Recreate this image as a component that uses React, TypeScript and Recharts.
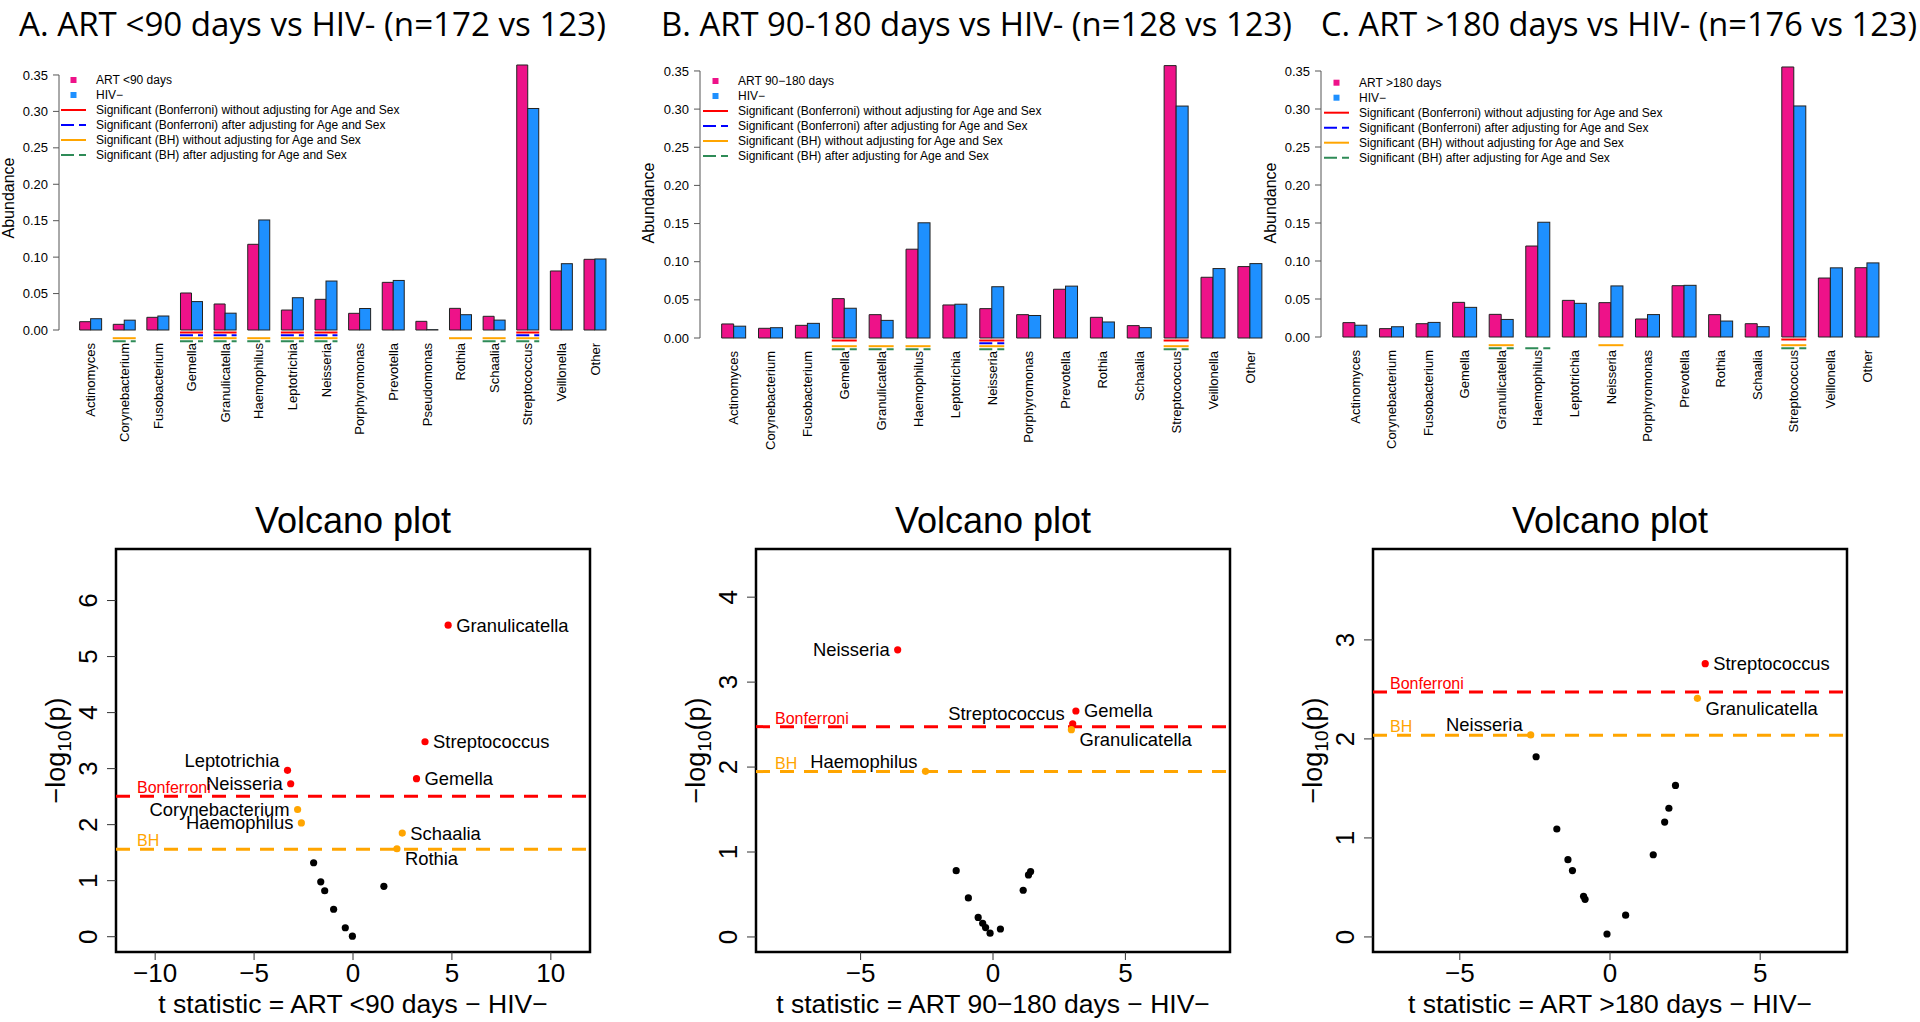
import React from 'react';
import { BarChart, Bar, XAxis, YAxis, ScatterChart, Scatter, ReferenceLine, ReferenceArea } from 'recharts';

const FONT = '"Liberation Sans", Arial, Helvetica, sans-serif';
const TITLE_FONT = '"Open Sans", "Noto Sans", sans-serif';
const PINK = '#EE1289';
const BLUE = '#1E90FF';
const SIG_RED = '#FF0000';
const SIG_BLUE = '#0000FF';
const SIG_ORANGE = '#FFA500';
const SIG_GREEN = '#2E8B57';

// genera on the bar charts (panel A also has Pseudomonas)
const GENERA_A = ['Actinomyces', 'Corynebacterium', 'Fusobacterium', 'Gemella', 'Granulicatella', 'Haemophilus', 'Leptotrichia', 'Neisseria', 'Porphyromonas', 'Prevotella', 'Pseudomonas', 'Rothia', 'Schaalia', 'Streptococcus', 'Veillonella', 'Other'];
const GENERA_BC = ['Actinomyces', 'Corynebacterium', 'Fusobacterium', 'Gemella', 'Granulicatella', 'Haemophilus', 'Leptotrichia', 'Neisseria', 'Porphyromonas', 'Prevotella', 'Rothia', 'Schaalia', 'Streptococcus', 'Veillonella', 'Other'];

// mean relative abundance
const ART_A = [0.0114, 0.0078, 0.0174, 0.0508, 0.0357, 0.1176, 0.0274, 0.0421, 0.0229, 0.0654, 0.0119, 0.0297, 0.0188, 0.3637, 0.081, 0.097];
const HIV_A = [0.0155, 0.0135, 0.0192, 0.039, 0.0231, 0.151, 0.0443, 0.0672, 0.0295, 0.068, 0.0005, 0.021, 0.0136, 0.304, 0.091, 0.0975];
const ART_B = [0.0184, 0.0127, 0.0166, 0.0516, 0.0306, 0.1164, 0.0433, 0.0385, 0.0306, 0.0639, 0.0271, 0.0162, 0.357, 0.0796, 0.0936];
const ART_C = [0.0189, 0.011, 0.0175, 0.0456, 0.0298, 0.1197, 0.0482, 0.0452, 0.0237, 0.0675, 0.0294, 0.0175, 0.3553, 0.0776, 0.0912];
const HIV_BC = [0.0155, 0.0135, 0.0192, 0.039, 0.0231, 0.151, 0.0443, 0.0672, 0.0295, 0.068, 0.021, 0.0136, 0.304, 0.091, 0.0975];

// significance marks under the bars
const BONF_A = ['Gemella', 'Granulicatella', 'Leptotrichia', 'Neisseria', 'Streptococcus'];
const BONF_ADJ_A = ['Gemella', 'Granulicatella', 'Leptotrichia', 'Neisseria', 'Streptococcus'];
const BH_A = ['Corynebacterium', 'Gemella', 'Granulicatella', 'Haemophilus', 'Leptotrichia', 'Neisseria', 'Rothia', 'Schaalia', 'Streptococcus'];
const BH_ADJ_A = ['Corynebacterium', 'Gemella', 'Granulicatella', 'Haemophilus', 'Leptotrichia', 'Neisseria', 'Schaalia', 'Streptococcus'];
const BONF_B = ['Gemella', 'Neisseria', 'Streptococcus'];
const BONF_ADJ_B = ['Neisseria'];
const BH_B = ['Gemella', 'Granulicatella', 'Haemophilus', 'Neisseria', 'Streptococcus'];
const BH_ADJ_B = ['Gemella', 'Granulicatella', 'Haemophilus', 'Neisseria', 'Streptococcus'];
const BONF_C = ['Streptococcus'];
const BONF_ADJ_C: string[] = [];
const BH_C = ['Granulicatella', 'Neisseria', 'Streptococcus'];
const BH_ADJ_C = ['Granulicatella', 'Haemophilus', 'Streptococcus'];

const ABUND_TICKS = [0, 0.05, 0.1, 0.15, 0.2, 0.25, 0.3, 0.35];

// volcano plots: t statistic and -log10(p)
const VOLC_A_NAME = ['Granulicatella', 'Streptococcus', 'Gemella', 'Leptotrichia', 'Neisseria', 'Corynebacterium', 'Haemophilus', 'Schaalia', 'Rothia', '', '', '', '', '', '', ''];
const VOLC_A_T = [4.81, 3.64, 3.21, -3.31, -3.15, -2.8, -2.61, 2.49, 2.22, -1.99, -1.63, -1.43, -0.98, -0.39, -0.03, 1.56];
const VOLC_A_P = [5.56, 3.48, 2.82, 2.97, 2.73, 2.27, 2.03, 1.85, 1.57, 1.32, 0.98, 0.82, 0.49, 0.16, 0.01, 0.9];
const VOLC_B_NAME = ['Neisseria', 'Gemella', 'Streptococcus', 'Granulicatella', 'Haemophilus', '', '', '', '', '', '', '', '', '', ''];
const VOLC_B_T = [-3.6, 3.13, 3.01, 2.96, -2.55, -1.39, -0.93, -0.56, -0.39, -0.28, -0.11, 0.28, 1.14, 1.34, 1.42];
const VOLC_B_P = [3.38, 2.66, 2.51, 2.44, 1.95, 0.78, 0.46, 0.23, 0.16, 0.11, 0.045, 0.094, 0.55, 0.73, 0.77];
const VOLC_C_NAME = ['Streptococcus', 'Granulicatella', 'Neisseria', '', '', '', '', '', '', '', '', '', '', '', ''];
const VOLC_C_T = [3.17, 2.91, -2.64, -2.46, -1.77, -1.4, -1.25, -0.88, -0.83, -0.1, 0.52, 1.44, 1.82, 1.96, 2.18];
const VOLC_C_P = [2.76, 2.41, 2.04, 1.82, 1.09, 0.78, 0.67, 0.41, 0.38, 0.03, 0.22, 0.83, 1.16, 1.3, 1.53];

// thresholds (-log10 p)
const BONF_LINE_A = 2.505;
const BH_LINE_A = 1.563;
const BONF_LINE_B = 2.476;
const BH_LINE_B = 1.947;
const BONF_LINE_C = 2.474;
const BH_LINE_C = 2.037;

type Place = 'l' | 'r' | 'lu' | 'rd';
const PLACE_A: Record<string, Place> = {
  Granulicatella: 'r', Streptococcus: 'r', Gemella: 'r', Leptotrichia: 'lu', Neisseria: 'l',
  Corynebacterium: 'l', Haemophilus: 'l', Schaalia: 'r', Rothia: 'rd',
};
const PLACE_B: Record<string, Place> = {
  Neisseria: 'l', Gemella: 'r', Streptococcus: 'lu', Granulicatella: 'rd', Haemophilus: 'lu',
};
const PLACE_C: Record<string, Place> = {
  Streptococcus: 'r', Granulicatella: 'rd', Neisseria: 'lu',
};

const minus = (v: number) => (v < 0 ? '\u2212' + Math.abs(v) : String(v));

const SIG_ROWS = [
  { key: 'bonf', dy: 2.5, color: SIG_RED, dash: undefined },
  { key: 'bonfAdj', dy: 5.2, color: SIG_BLUE, dash: '13 5' },
  { key: 'bh', dy: 8.2, color: SIG_ORANGE, dash: undefined },
  { key: 'bhAdj', dy: 11.2, color: SIG_GREEN, dash: '13 5' },
];

function HivBar(props: any) {
  const { x, y, width, height, fill, payload } = props;
  const base = y + height;
  const x0 = x - width;
  const x1 = x + width;
  return (
    <g>
      <rect x={x} y={y} width={width} height={height} fill={fill} stroke="#222" strokeWidth={1} />
      {SIG_ROWS.filter(r => payload && payload[r.key]).map(r => (
        <line key={r.key} x1={x0 - 0.5} x2={x1 + 0.5} y1={base + r.dy} y2={base + r.dy}
          stroke={r.color} strokeWidth={2} strokeDasharray={r.dash} />
      ))}
    </g>
  );
}

function GenusTick(props: any) {
  const { x, y, payload } = props;
  return (
    <text x={x} y={y + 13} transform={`rotate(-90, ${x}, ${y + 13})`} textAnchor="end"
      dominantBaseline="central" fontSize={13} fontFamily={FONT} fill="#000">
      {payload.value}
    </text>
  );
}

interface BarPanelProps {
  left: number; width: number; genera: string[]; art: number[]; hiv: number[];
  bonf: string[]; bonfAdj: string[]; bh: string[]; bhAdj: string[];
  plotTop: number; plotBottom: number; yAxisW: number; padL: number; padR: number;
  labelDX: number; labelY: number;
}

function BarPanel(p: BarPanelProps) {
  const H = 480;
  const YMAX = 0.37;
  const step = ((p.plotBottom - p.plotTop) * 0.05) / YMAX;
  const data = p.genera.map((g, i) => ({
    genus: g, art: p.art[i], hiv: p.hiv[i],
    bonf: p.bonf.includes(g), bonfAdj: p.bonfAdj.includes(g), bh: p.bh.includes(g), bhAdj: p.bhAdj.includes(g),
  }));
  const yTick = (tp: any) => {
    const ax = tp.x + 11;
    return (
      <g>
        <text x={tp.x} y={tp.y + 4.6} textAnchor="end" fontSize={13} fontFamily={FONT} fill="#000">
          {tp.payload.value.toFixed(2)}
        </text>
        {tp.payload.value > 0 && <line x1={ax} x2={ax} y1={tp.y} y2={tp.y + step} stroke="#555" strokeWidth={1} />}
      </g>
    );
  };
  return (
    <div style={{ position: 'absolute', left: p.left, top: 0 }}>
      <BarChart width={p.width} height={H} data={data} barCategoryGap="16.7%" barGap={0}
        margin={{ top: p.plotTop, right: 0, bottom: H - p.plotBottom - 100, left: 0 }}>
        <XAxis dataKey="genus" interval={0} tickSize={0} tickMargin={0} axisLine={false} tickLine={false}
          height={100} padding={{ left: p.padL, right: p.padR }} tick={<GenusTick />} />
        <YAxis type="number" domain={[0, YMAX]} ticks={ABUND_TICKS} width={p.yAxisW}
          tickSize={6} tickMargin={5} axisLine={false} tickLine={{ stroke: '#555' }} tick={yTick}
          label={(lp: any) => (
            <text x={lp.viewBox.x + p.labelDX} y={p.labelY} transform={`rotate(-90, ${lp.viewBox.x + p.labelDX}, ${p.labelY})`}
              textAnchor="middle" fontSize={16} fontFamily={FONT} fill="#000">Abundance</text>
          )} />
        <Bar dataKey="art" fill={PINK} stroke="#222" strokeWidth={1} isAnimationActive={false} />
        <Bar dataKey="hiv" fill={BLUE} isAnimationActive={false} shape={(sp: any) => <HivBar {...sp} />} />
      </BarChart>
    </div>
  );
}

interface VolcanoProps {
  left: number; names: string[]; t: number[]; p: number[]; bonf: number; bh: number;
  xMax: number; yMin: number; yMax: number; xTicks: number[]; yTicks: number[];
  yAxisW: number; place: Record<string, Place>; xLabel: string; bonfDX: number;
}

function Volcano(v: VolcanoProps) {
  const W = 640;
  const H = 542;
  const plotW = 474;
  const data = v.t.map((tv, i) => ({ t: tv, p: v.p[i], name: v.names[i] }));
  const dot = (sp: any) => {
    const d = sp.payload ?? sp;
    const { cx, cy } = sp;
    const color = d.p > v.bonf ? SIG_RED : d.p > v.bh ? SIG_ORANGE : '#000';
    const pl = v.place[d.name];
    let label = null;
    if (d.name && pl) {
      const right = pl === 'r' || pl === 'rd';
      const dy = pl === 'lu' ? -10 : pl === 'rd' ? 10 : 0;
      label = (
        <text x={right ? cx + 8 : cx - 8} y={cy + dy} textAnchor={right ? 'start' : 'end'} dominantBaseline="central"
          fontSize={18.4} fontFamily={FONT} fill="#000">{d.name}</text>
      );
    }
    return (
      <g>
        <circle cx={cx} cy={cy} r={3.6} fill={color} />
        {label}
      </g>
    );
  };
  const refLabel = (text: string, color: string) => (lp: any) => (
    <text x={lp.viewBox.x + v.bonfDX} y={lp.viewBox.y - 3} fontSize={16} fontFamily={FONT} fill={color}>{text}</text>
  );
  return (
    <div style={{ position: 'absolute', left: v.left, top: 480 }}>
      <ScatterChart width={W} height={H} margin={{ top: 69, right: W - v.yAxisW - plotW, bottom: 0, left: 0 }}>
        <XAxis type="number" dataKey="t" domain={[-v.xMax, v.xMax]} ticks={v.xTicks} allowDataOverflow interval={0}
          height={70} tickSize={8} tickMargin={0} axisLine={false} tickLine={{ stroke: '#333' }}
          tick={(tp: any) => (
            <text x={tp.x} y={tp.y + 22} textAnchor="middle" fontSize={26} fontFamily={FONT} fill="#000">{minus(tp.payload.value)}</text>
          )}
          label={(lp: any) => (
            <text x={lp.viewBox.x + lp.viewBox.width / 2} y={lp.viewBox.y + 61} textAnchor="middle" fontSize={26.5}
              fontFamily={FONT} fill="#000">{v.xLabel}</text>
          )} />
        <YAxis type="number" dataKey="p" domain={[v.yMin, v.yMax]} ticks={v.yTicks} allowDataOverflow interval={0}
          width={v.yAxisW} tickSize={9} tickMargin={0} axisLine={false} tickLine={{ stroke: '#333' }}
          tick={(tp: any) => (
            <text x={tp.x - 9.7} y={tp.y} transform={`rotate(-90, ${tp.x - 9.7}, ${tp.y})`} textAnchor="middle"
              fontSize={26} fontFamily={FONT} fill="#000">{tp.payload.value}</text>
          )}
          label={(lp: any) => {
            const lx = lp.viewBox.x + lp.viewBox.width - 51;
            const ly = lp.viewBox.y + lp.viewBox.height / 2;
            return (
              <text x={lx} y={ly} transform={`rotate(-90, ${lx}, ${ly})`} textAnchor="middle" fontSize={27}
                fontFamily={FONT} fill="#000">
                {'\u2212log'}<tspan fontSize={19} dy={6}>10</tspan><tspan dy={-6}>(p)</tspan>
              </text>
            );
          }} />
        <ReferenceLine y={v.bonf} stroke={SIG_RED} strokeWidth={3} strokeDasharray="14 10" label={refLabel('Bonferroni', SIG_RED)} />
        <ReferenceLine y={v.bh} stroke={SIG_ORANGE} strokeWidth={3} strokeDasharray="14 10" label={refLabel('BH', SIG_ORANGE)} />
        <Scatter data={data} shape={dot} isAnimationActive={false} />
        <ReferenceArea x1={-v.xMax} x2={v.xMax} y1={v.yMin} y2={v.yMax} fill="none" fillOpacity={0} stroke="#000" strokeWidth={2.5} />
      </ScatterChart>
    </div>
  );
}

const LEGEND_ROWS = [
  { kind: 'sq', color: PINK },
  { kind: 'sq', color: BLUE },
  { kind: 'ln', color: SIG_RED, dash: undefined, text: 'Significant (Bonferroni) without adjusting for Age and Sex' },
  { kind: 'ln', color: SIG_BLUE, dash: '13 5', text: 'Significant (Bonferroni) after adjusting for Age and Sex' },
  { kind: 'ln', color: SIG_ORANGE, dash: undefined, text: 'Significant (BH) without adjusting for Age and Sex' },
  { kind: 'ln', color: SIG_GREEN, dash: '13 5', text: 'Significant (BH) after adjusting for Age and Sex' },
];

function Legend({ x0, y0, artLabel }: { x0: number; y0: number; artLabel: string }) {
  return (
    <g>
      {LEGEND_ROWS.map((r, i) => {
        const cy = y0 + i * 15;
        const text = i === 0 ? artLabel : i === 1 ? 'HIV\u2212' : r.text;
        return (
          <g key={i}>
            {r.kind === 'sq'
              ? <rect x={x0 + 9.5} y={cy - 3} width={6} height={6} fill={r.color} />
              : <line x1={x0} x2={x0 + 25} y1={cy} y2={cy} stroke={r.color} strokeWidth={2} strokeDasharray={r.dash} />}
            <text x={x0 + 35} y={cy + 4.3} fontSize={12} fontFamily={FONT} fill="#000">{text}</text>
          </g>
        );
      })}
    </g>
  );
}

export default function App() {
  return (
    <div style={{ position: 'absolute', left: 0, top: 0, width: 1920, height: 1022, background: '#fff', overflow: 'hidden' }}>
      <BarPanel left={0} width={640} genera={GENERA_A} art={ART_A} hiv={HIV_A}
        bonf={BONF_A} bonfAdj={BONF_ADJ_A} bh={BH_A} bhAdj={BH_ADJ_A}
        plotTop={60.4} plotBottom={330} yAxisW={59} padL={15} padR={28} labelDX={13.5} labelY={198} />
      <BarPanel left={640} width={640} genera={GENERA_BC} art={ART_B} hiv={HIV_BC}
        bonf={BONF_B} bonfAdj={BONF_ADJ_B} bh={BH_B} bhAdj={BH_ADJ_B}
        plotTop={55.7} plotBottom={338} yAxisW={60} padL={15.5} padR={11.4} labelDX={13.7} labelY={203} />
      <BarPanel left={1240} width={680} genera={GENERA_BC} art={ART_C} hiv={HIV_BC}
        bonf={BONF_C} bonfAdj={BONF_ADJ_C} bh={BH_C} bhAdj={BH_ADJ_C}
        plotTop={55.8} plotBottom={337} yAxisW={81} padL={15.8} padR={34.6} labelDX={35.7} labelY={203} />

      <Volcano left={0} names={VOLC_A_NAME} t={VOLC_A_T} p={VOLC_A_P} bonf={BONF_LINE_A} bh={BH_LINE_A}
        xMax={11.98} yMin={-0.273} yMax={6.92} xTicks={[-10, -5, 0, 5, 10]} yTicks={[0, 1, 2, 3, 4, 5, 6]}
        yAxisW={116} place={PLACE_A} xLabel={'t statistic = ART <90 days \u2212 HIV\u2212'} bonfDX={21} />
      <Volcano left={640} names={VOLC_B_NAME} t={VOLC_B_T} p={VOLC_B_P} bonf={BONF_LINE_B} bh={BH_LINE_B}
        xMax={8.95} yMin={-0.177} yMax={4.567} xTicks={[-5, 0, 5]} yTicks={[0, 1, 2, 3, 4]}
        yAxisW={116} place={PLACE_B} xLabel={'t statistic = ART 90\u2212180 days \u2212 HIV\u2212'} bonfDX={19} />
      <Volcano left={1280} names={VOLC_C_NAME} t={VOLC_C_T} p={VOLC_C_P} bonf={BONF_LINE_C} bh={BH_LINE_C}
        xMax={7.89} yMin={-0.152} yMax={3.918} xTicks={[-5, 0, 5]} yTicks={[0, 1, 2, 3]}
        yAxisW={93} place={PLACE_C} xLabel={'t statistic = ART >180 days \u2212 HIV\u2212'} bonfDX={17} />

      <svg width={1920} height={1022} style={{ position: 'absolute', left: 0, top: 0, pointerEvents: 'none' }}>
        <text x={19} y={36} fontSize={32.5} textLength={587} lengthAdjust="spacingAndGlyphs" fontFamily={TITLE_FONT} fill="#000">A. ART &lt;90 days vs HIV- (n=172 vs 123)</text>
        <text x={661} y={36} fontSize={32.5} textLength={631} lengthAdjust="spacingAndGlyphs" fontFamily={TITLE_FONT} fill="#000">B. ART 90-180 days vs HIV- (n=128 vs 123)</text>
        <text x={1321} y={36} fontSize={32.5} textLength={596} lengthAdjust="spacingAndGlyphs" fontFamily={TITLE_FONT} fill="#000">C. ART &gt;180 days vs HIV- (n=176 vs 123)</text>
        <text x={353} y={533} textAnchor="middle" fontSize={36} fontFamily={FONT} fill="#000">Volcano plot</text>
        <text x={993} y={533} textAnchor="middle" fontSize={36} fontFamily={FONT} fill="#000">Volcano plot</text>
        <text x={1610} y={533} textAnchor="middle" fontSize={36} fontFamily={FONT} fill="#000">Volcano plot</text>
        <Legend x0={61} y0={80} artLabel="ART <90 days" />
        <Legend x0={703} y0={81} artLabel={'ART 90\u2212180 days'} />
        <Legend x0={1324} y0={82.7} artLabel="ART >180 days" />
      </svg>
    </div>
  );
}
